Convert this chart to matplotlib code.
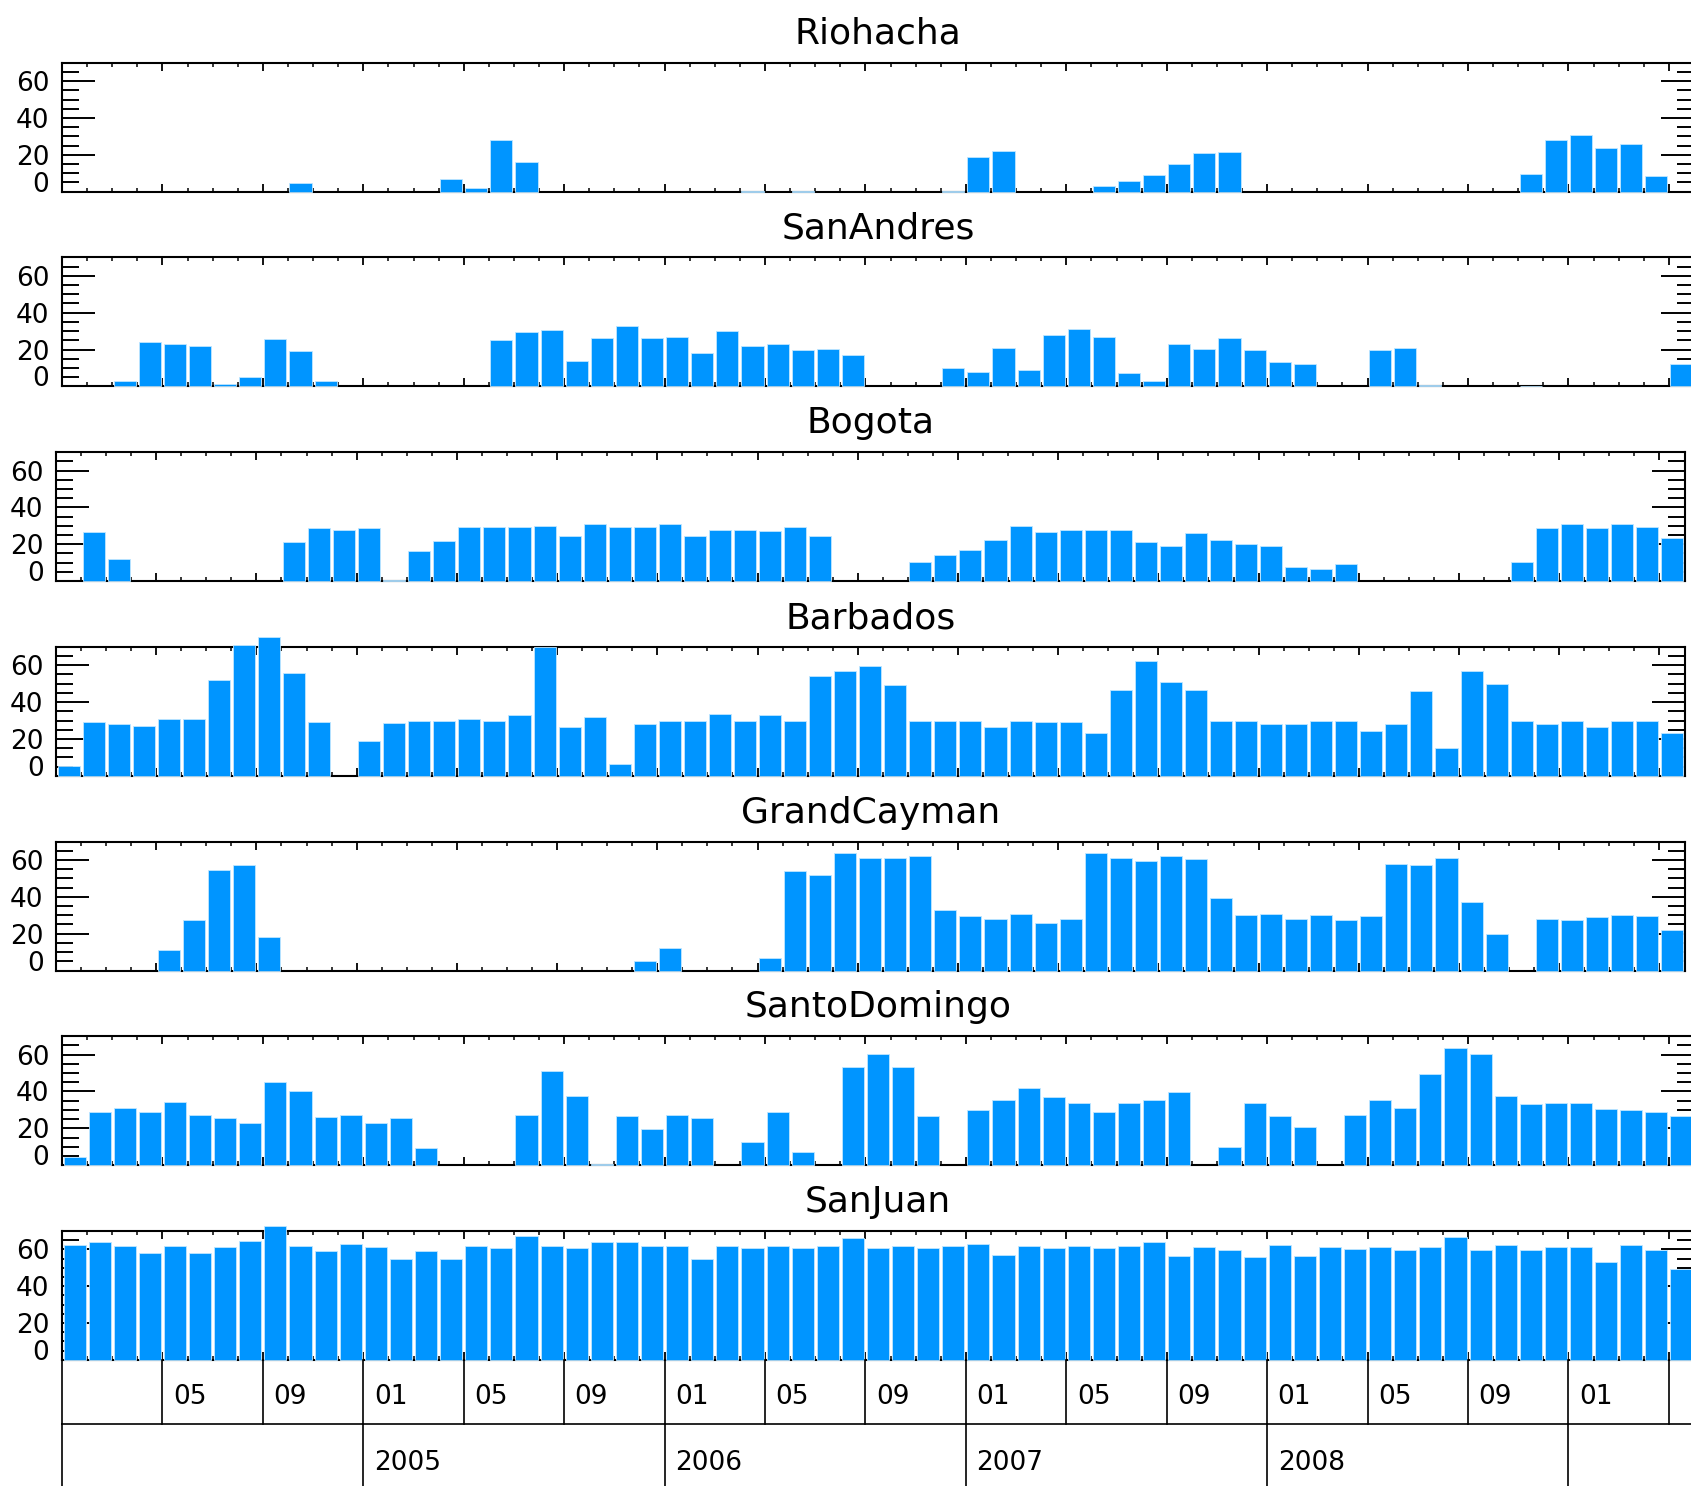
import matplotlib
matplotlib.use('Agg')
import matplotlib.pyplot as plt

# monthly counts, Jan 2004 .. May 2009 (65 months)
stations = ['Riohacha', 'SanAndres', 'Bogota', 'Barbados', 'GrandCayman', 'SantoDomingo', 'SanJuan']

riohacha = [0, 0, 0, 0, 0, 0, 0, 0, 0, 4.5,
            0, 0, 0, 0, 0, 7, 2, 28, 16, 0,
            0, 0, 0, 0, 0, 0, 0, 0.5, 0, 0.5,
            0, 0, 0, 0, 0, 0.5, 19, 22, 0, 0,
            0, 3, 6, 9, 15, 21, 21.5, 0, 0, 0,
            0, 0, 0, 0, 0, 0, 0, 0, 9.5, 28,
            30.5, 23.5, 26, 8.5, 0]
san_andres = [0, 0, 3, 24, 23, 22, 1.2, 5, 25.5, 19,
              3, 0, 0, 0, 0, 0, 0, 25, 29.5, 30.5,
              14, 26.5, 33, 26.5, 27, 18, 30, 22, 23, 20,
              20.5, 17, 0, 0, 0, 10, 8, 21, 9, 28,
              31, 27, 7.5, 3, 23, 20.5, 26.5, 20, 13.5, 12,
              0, 0, 19.5, 21, 0.5, 0, 0, 0, 0.3, 0,
              0, 0, 0, 0, 12]
bogota = [0, 26.5, 12, 0, 0, 0, 0, 0, 0, 21,
          29, 27.5, 29, 0.5, 16.5, 22, 29.5, 29.5, 29.5, 30,
          24.5, 31, 29.5, 29.5, 31, 24.5, 27.5, 27.5, 27, 29.5,
          24.5, 0, 0, 0, 10.5, 14, 17, 22.5, 30, 26.5,
          27.5, 27.5, 27.5, 21, 19, 26, 22.5, 20, 19, 7.5,
          6.5, 9.5, 0, 0, 0, 0, 0, 0, 10.5, 29,
          31, 29, 31, 29.5, 23.5]
barbados = [5.5, 29, 28, 27, 31, 31, 52, 71, 75.5, 56,
            29, 0, 19, 28.5, 30, 29.5, 31, 30, 33, 70,
            26.5, 32, 6.5, 28, 30, 29.5, 33.5, 29.5, 33, 30,
            54, 57, 59.5, 49.5, 29.5, 30, 29.5, 26.5, 30, 29,
            29, 23, 46.5, 62.5, 51, 46.5, 29.5, 30, 28, 28,
            30, 29.5, 24.5, 28, 46, 15, 57, 50, 29.5, 28,
            30, 26.5, 30, 29.5, 23]
grand_cayman = [0, 0, 0, 0, 11, 27.5, 54.5, 57.5, 18, 0,
                0, 0, 0, 0, 0, 0, 0, 0, 0, 0,
                0, 0, 0, 5, 12, 0, 0, 0, 7, 54,
                52, 64, 61, 61, 62, 33, 29.5, 28, 30.5, 26,
                28, 64, 61, 59.5, 62, 60.5, 39.5, 30, 30.5, 28,
                30, 27.5, 29.5, 58, 57, 61, 37, 20, 0, 28,
                27.5, 29, 30, 29.5, 22]
santo_domingo = [4.7, 29, 31, 29, 34.5, 27, 25.5, 23, 45, 40,
                 26, 27, 23, 25.5, 9.5, 0, 0, 0, 27.5, 51,
                 37.5, 0.5, 26.5, 19.5, 27, 25.5, 0, 12.5, 29, 7,
                 0, 53.5, 60.5, 53.5, 26.5, 0, 30, 35.5, 42, 37,
                 34, 29, 34, 35.5, 39.5, 0, 10, 33.5, 26.5, 21,
                 0, 27, 35.5, 31, 49.5, 63.5, 60.5, 37.5, 33, 34,
                 33.5, 30.5, 30, 29, 26.5]
san_juan = [62.5, 64, 62, 58, 62, 58, 61.5, 64.5, 72.5, 62,
            59, 63, 61.5, 55, 59, 55, 62, 60.5, 67.5, 62,
            60.5, 64, 64, 62, 62, 55, 62, 60.5, 62, 60.5,
            62, 66, 60.5, 62, 60.5, 62, 63, 57, 62, 60.5,
            62, 60.5, 62, 64, 56.5, 61.3, 59.5, 55.7, 62.3, 56.6,
            61.3, 60.4, 61.3, 59.5, 61.3, 66.8, 59.5, 62.3, 59.5, 61.3,
            61.3, 53.3, 62.3, 59.5, 49.5]

series = [riohacha, san_andres, bogota, barbados, grand_cayman, santo_domingo, san_juan]

# labels of the date boxes below the last panel (every 4 months / every year)
month_labels = ['', '05', '09', '01', '05', '09', '01', '05', '09',
                '01', '05', '09', '01', '05', '09', '01', '']
year_labels = ['', '2005', '2006', '2007', '2008', '']

nMonths = len(san_juan)
barColor = '#0095ff'
labelSize = 19

W, H = 1691, 1486
fig = plt.figure(figsize=(W / 100, H / 100), dpi=100)


def px_box(left, right, top, bottom):
    # pixel box -> figure fraction rectangle
    return [left / W, 1 - bottom / H, (right - left) / W, (bottom - top) / H]


def drawPanel(ax, name, values):
    # empty months get no bar at all
    x = [m + 0.5 for m, v in enumerate(values) if v > 0]
    h = [v for v in values if v > 0]
    ax.bar(x, h, width=0.88, color=barColor, edgecolor='#bfe6ff',
           linewidth=0.6, zorder=3, clip_on=False)
    ax.set_xlim(0, nMonths)
    ax.set_ylim(0, 70)
    ax.set_axisbelow(True)

    ax.set_xticks(range(0, nMonths, 4))
    ax.set_xticks(range(0, nMonths + 1), minor=True)
    ax.tick_params(axis='x', which='major', direction='in', length=6, width=1.3,
                   top=True, bottom=True, labelbottom=False)
    ax.tick_params(axis='x', which='minor', direction='in', length=3, width=1.1,
                   top=True, bottom=True)

    ax.set_yticks([0, 20, 40, 60])
    ax.set_yticklabels(['0', '20', '40', '60'])
    ax.set_yticks(range(0, 71, 5), minor=True)
    ax.tick_params(axis='y', which='major', direction='in', length=24, width=1.4,
                   left=True, right=True, labelsize=labelSize, pad=9)
    ax.tick_params(axis='y', which='minor', direction='in', length=12, width=1.4,
                   left=True, right=True)
    # the zero label sits on the bottom axis line
    ax.get_yticklabels()[0].set_va('baseline')

    for s in ax.spines.values():
        s.set_linewidth(1.5)
    ax.set_title(name, fontsize=26, pad=13.5)


pitch = 194.7
for k, (name, values) in enumerate(zip(stations, series)):
    top = 62.7 + k * pitch
    if name in ('Bogota', 'Barbados', 'GrandCayman'):
        left, right = 56, 1684.5
    else:
        left, right = 62, 1694
    ax = fig.add_axes(px_box(left, right, top, top + 129))
    drawPanel(ax, name, values)
    if name == 'SanJuan':
        axBottom = top + 129

# date boxes under the last panel
lab = fig.add_axes(px_box(62, 1694, axBottom, H))
lab.set_xlim(0, nMonths)
lab.set_ylim(H, axBottom)
lab.axis('off')
rowSplit = axBottom + 64
lab.plot([0, nMonths + 1], [rowSplit, rowSplit], color='black', lw=1.2, clip_on=False)
for i, txt in enumerate(month_labels):
    m = i * 4
    lab.plot([m, m], [axBottom, rowSplit], color='black', lw=1.2, clip_on=False)
    if txt:
        lab.text(m + 0.42, axBottom + 37, txt, fontsize=labelSize, ha='left', va='center')
for i, txt in enumerate(year_labels):
    m = i * 12
    lab.plot([m, m], [rowSplit, H + 5], color='black', lw=1.2, clip_on=False)
    if txt:
        lab.text(m + 0.42, rowSplit + 39, txt, fontsize=labelSize, ha='left', va='center')

fig.savefig('out.png', dpi=100)
